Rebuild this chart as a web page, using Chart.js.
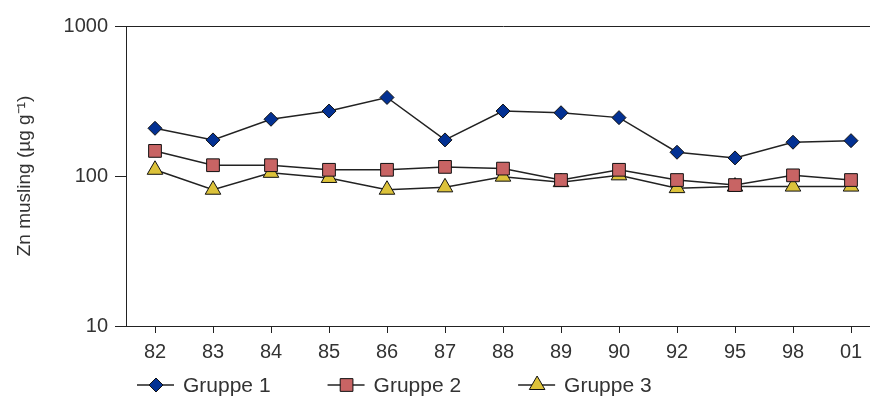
<!DOCTYPE html>
<html>
<head>
<meta charset="utf-8">
<script src="https://cdn.jsdelivr.net/npm/chart.js@4/dist/chart.umd.min.js"></script>
<style>
  html, body { margin: 0; padding: 0; background: #fff; overflow: hidden; }
  #wrap { width: 890px; height: 396px; position: relative; }
  canvas { display: block; }
</style>
</head>
<body>
<div id="wrap"><canvas id="znChart"></canvas></div>
<script>
// years (x categories)
const years = ["82", "83", "84", "85", "86", "87", "88", "89", "90", "92", "95", "98", "01"];

// Zn in mussels, µg g-1
const gruppe1 = [208, 174, 239, 271, 334, 174, 271, 264, 245, 144, 132, 168, 172];
const gruppe2 = [147, 118, 118, 110, 110, 115, 112, 94, 110, 94, 87, 101, 94];
const gruppe3 = [110, 81, 105, 97, 81, 84, 99, 91, 101, 83, 85, 85, 85];

const yTicks = [10, 100, 1000];
const yTitle = "Zn musling (µg g\u207B\u00B9)";

const FONT = "Arial, 'Liberation Sans', sans-serif";
const INK = "#333";

/* -----------------------
   LEGEND: line + marker + text
------------------------ */
const lineLegend = {
    id: "lineLegend",
    afterDraw(chart) {
        const ctx = chart.ctx;
        const y = 385;
        let x = 137;
        ctx.save();
        ctx.font = "21px " + FONT;
        ctx.textBaseline = "middle";
        chart.data.datasets.forEach(ds => {
            ctx.strokeStyle = "#222";
            ctx.lineWidth = 1.5;
            ctx.beginPath();
            ctx.moveTo(x, y);
            ctx.lineTo(x + 37, y);
            ctx.stroke();

            ctx.fillStyle = ds.pointBackgroundColor;
            ctx.strokeStyle = ds.pointBorderColor;
            ctx.lineWidth = ds.pointBorderWidth;
            Chart.helpers.drawPoint(ctx, {
                pointStyle: ds.pointStyle,
                radius: ds.pointRadius,
                rotation: 0,
                borderWidth: ds.pointBorderWidth
            }, x + 19, y);

            ctx.fillStyle = INK;
            ctx.fillText(ds.label, x + 46, y + 1);
            x += 46 + ctx.measureText(ds.label).width + 57;
        });
        ctx.restore();
    }
};

function series(label, data, style, radius, fill) {
    return {
        label: label,
        data: data,
        borderColor: "#222",
        borderWidth: 1.5,
        tension: 0,
        pointStyle: style,
        pointRadius: radius,
        pointHoverRadius: radius,
        pointBackgroundColor: fill,
        pointBorderColor: "#111",
        pointBorderWidth: 1
    };
}

new Chart(document.getElementById("znChart"), {
    type: "line",
    data: {
        labels: years,
        datasets: [
            series("Gruppe 1", gruppe1, "rectRot", 7, "#033193"),
            series("Gruppe 2", gruppe2, "rect", 9, "#c86464"),
            series("Gruppe 3", gruppe3, "triangle", 9, "#dcc23a")
        ]
    },
    options: {
        responsive: true,
        maintainAspectRatio: false,
        animation: false,
        devicePixelRatio: 1,
        layout: { padding: { left: 0, right: 0, top: 26, bottom: 25 } },
        plugins: {
            legend: { display: false },
            tooltip: { enabled: false }
        },
        scales: {
            x: {
                offset: true,
                grid: {
                    offset: false,
                    color: "transparent",
                    tickColor: "#222",
                    tickLength: 7
                },
                border: { color: "#222", width: 1 },
                ticks: {
                    color: INK,
                    padding: 7,
                    font: { family: FONT, size: 20 },
                    maxRotation: 0,
                    autoSkip: false
                }
            },
            y: {
                type: "logarithmic",
                min: 10,
                max: 1000,
                afterBuildTicks: scale => {
                    scale.ticks = yTicks.map(v => ({ value: v }));
                },
                afterFit: scale => { scale.width = 126; },
                grid: {
                    color: c => (c.tick && c.tick.value === 1000 ? "#222" : "transparent"),
                    tickColor: "#222",
                    tickLength: 11
                },
                border: { color: "#222", width: 1 },
                ticks: {
                    color: INK,
                    padding: 7,
                    font: { family: FONT, size: 20 },
                    callback: v => String(v)
                },
                title: {
                    display: true,
                    text: yTitle,
                    color: INK,
                    font: { family: FONT, size: 19 },
                    padding: { top: 13, bottom: 0 }
                }
            }
        }
    },
    plugins: [lineLegend]
});
</script>
</body>
</html>
